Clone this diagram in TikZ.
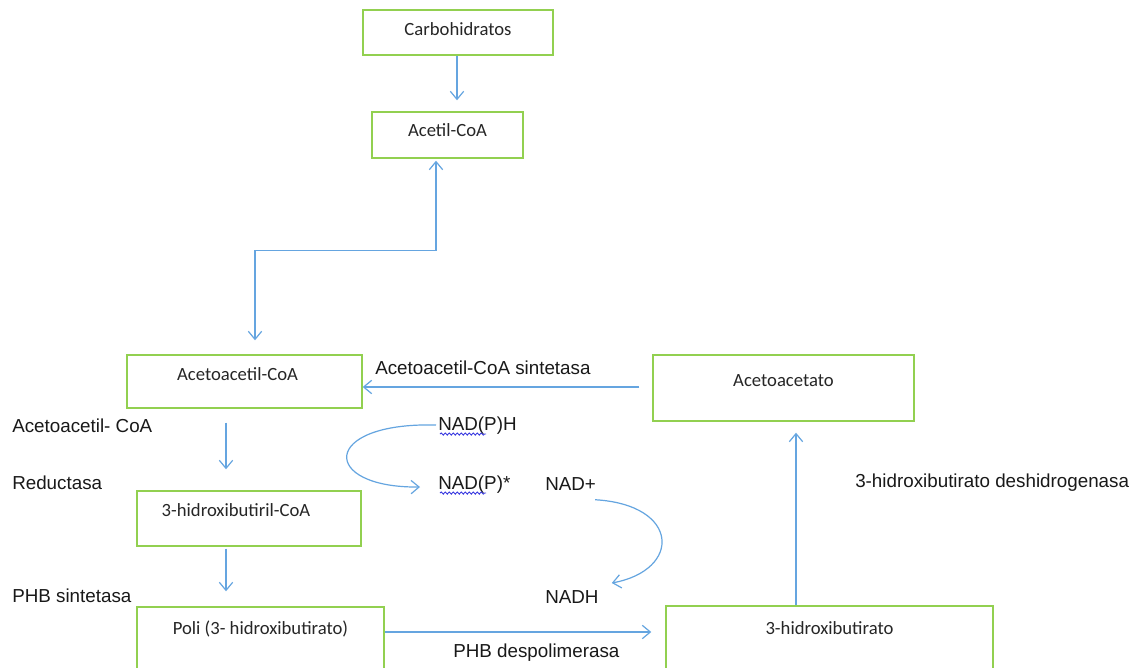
\documentclass[tikz,border=0pt]{standalone}
\usepackage{fontspec}
\setmainfont{Liberation Sans}
\newfontfamily\boxfont{Carlito}
\usetikzlibrary{arrows.meta,calc,decorations.pathmorphing}

\definecolor{boxgreen}{HTML}{92D050}
\definecolor{flowblue}{HTML}{65A5E0}
\definecolor{spellblue}{HTML}{3A3AE0}

\tikzset{
  box/.style 2 args={draw=boxgreen, line width=1.1pt, inner sep=0pt,
    minimum width=#1*0.75pt, minimum height=#2*0.75pt},
  boxtext/.style={font=\boxfont\fontsize{14}{16}\selectfont, text=black!85, inner sep=0pt},
  lbl/.style={font=\fontsize{14.1}{16}\selectfont, text=black!90, anchor=west, inner sep=0pt},
  flow/.style={draw=flowblue, line width=0.9pt, -{Straight Barb[length=6pt,width=10pt]}},
  flowboth/.style={draw=flowblue, line width=0.9pt,
    {Straight Barb[length=6pt,width=10pt]}-{Straight Barb[length=6pt,width=10pt]}},
  spell/.style={draw=spellblue, line width=0.7pt, decorate,
    decoration={snake, amplitude=0.8pt, segment length=3pt}}
}

\begin{document}
\begin{tikzpicture}[x=0.75pt, y=-0.75pt]

\useasboundingbox (0,0) rectangle (1140,668);
\clip (0,0) rectangle (1140,668);
\fill[white] (0,0) rectangle (1140,668);

% boxes
\node[box={190}{45}] (carb) at (458,32.5) {};
\node[boxtext] (carbtxt) at ($(carb.north)+(0,20)$) {Carbohidratos};

\node[box={151}{46}] (acetil) at (447.5,135) {};
\node[boxtext] (acetiltxt) at ($(acetil.north)+(0,19)$) {Acetil-CoA};

\node[box={235}{53}] (aacoa) at (244.5,381.5) {};
\node[boxtext] (aacoatxt) at ($(aacoa.north)+(-7,20)$) {Acetoacetil-CoA};

\node[box={261}{66}] (aacetato) at (783.5,388) {};
\node[boxtext] (aacetatotxt) at ($(aacetato.north)+(0,26)$) {Acetoacetato};

\node[box={224}{55}] (hbcoa) at (249,518.5) {};
\node[boxtext] (hbcoatxt) at ($(hbcoa.north)+(-13,20)$) {3-hidroxibutiril-CoA};

\node[box={247}{70}] (poli) at (260.5,642) {};
\node[boxtext] (politxt) at ($(poli.north)+(0,23)$) {Poli (3- hidroxibutirato)};

\node[box={327}{70}] (hb) at (829.5,641) {};
\node[boxtext] (hbtxt) at ($(hb.north)+(0,23)$) {3-hidroxibutirato};

% labels
\node[lbl] (redlbl1) at (12,426) {Acetoacetil- CoA};
\node[lbl] (redlbl2) at (12,483) {Reductasa};
\node[lbl] (phbsint) at (12,596) {PHB sintetasa};
\node[lbl] (aasint) at (375,368) {Acetoacetil-CoA sintetasa};
\node[lbl] (nadph) at (438,426) {NAD(P)H};
\node[lbl] (nadps) at (438,485) {NAD(P)*};
\node[lbl] (nadplus) at (545,484) {NAD+};
\node[lbl] (nadh) at (545,597) {NADH};
\node[lbl] (deshid) at (855,483) {3-hidroxibutirato deshidrogenasa};
\node[lbl] (despol) at (453,653) {PHB despolimerasa};

% spell-check underlines
\draw[spell] ($(nadph.south west)+(2,-1)$) -- ++(46,0);
\draw[spell] ($(nadps.south west)+(2,-1)$) -- ++(46,0);

% connectors
\draw[flow] ($(carb.south)+(-1,0)$) -- ($(acetil.north)+(9.5,-11)$);
\draw[flowboth] ($(acetil.south)+(-11.5,2)$) -- ++(0,90) -| ($(aacoa.north)+(10.5,-14)$);
\draw[flow] ($(aacetato.west)+(-13,-1)$) -- ($(aacoa.east)+(0,5.5)$);
\draw[flow] ($(aacoa.south)+(-18.5,14)$) -- ($(hbcoa.north)+(-23,-21)$);
\draw[flow] ($(hbcoa.south)+(-23,2)$) -- ($(poli.north)+(-34.5,-15)$);
\draw[flow] ($(poli.east)+(0,-10)$) -- ($(hb.west)+(-14,-9)$);
\draw[flow] ($(hb.north)+(-33.5,0)$) -- ($(aacetato.south)+(12.5,11)$);

% cofactor curves
\draw[flow] ($(nadph.west)+(-2,-1)$) .. controls +(-116,-3) and +(-100,1) .. ($(nadps.west)+(-18,2)$);
\draw[flow] ($(nadplus.south east)+(-1,9)$) .. controls +(85,5) and +(70,-13) .. ($(nadh.east)+(13,-14)$);

\end{tikzpicture}
\end{document}
